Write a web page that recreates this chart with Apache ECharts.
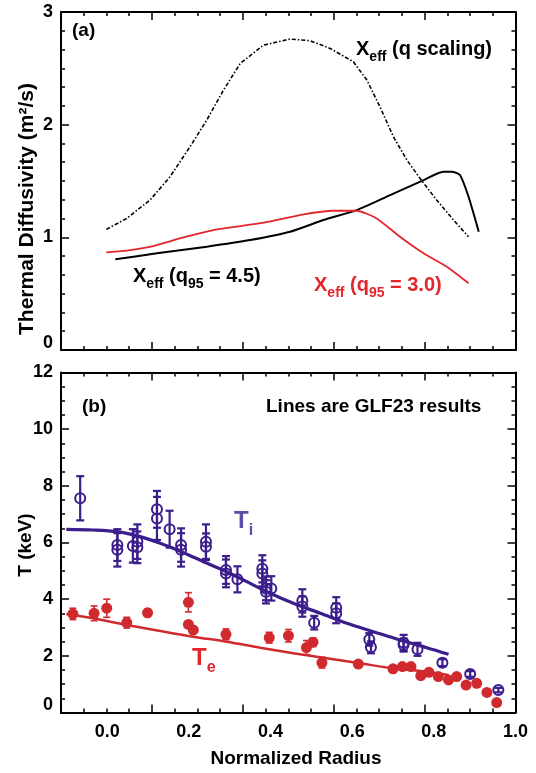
<!DOCTYPE html>
<html>
<head>
<meta charset="utf-8">
<script src="https://cdn.jsdelivr.net/npm/echarts@6/dist/echarts.min.js"></script>
<style>
html, body { margin: 0; padding: 0; background: #fff; }
#main { width: 536px; height: 773px; }
</style>
</head>
<body>
<div id="main"></div>
<script>
// (a) thermal diffusivity profiles
var qScaleX = [-0.002, 0.048, 0.105, 0.154, 0.203, 0.244, 0.285, 0.326, 0.383, 0.448, 0.497, 0.546, 0.603, 0.636, 0.668, 0.701, 0.734, 0.766, 0.807, 0.848, 0.885];
var qScaleY = [1.071, 1.168, 1.331, 1.538, 1.804, 2.041, 2.307, 2.544, 2.706, 2.760, 2.745, 2.677, 2.558, 2.396, 2.159, 1.893, 1.686, 1.524, 1.331, 1.154, 1.005];
var q45X = [0.020, 0.122, 0.244, 0.350, 0.448, 0.530, 0.611, 0.693, 0.775, 0.823, 0.844, 0.864, 0.885, 0.910];
var q45Y = [0.805, 0.858, 0.917, 0.976, 1.050, 1.154, 1.242, 1.375, 1.508, 1.582, 1.582, 1.553, 1.360, 1.050];
var q30X = [-0.002, 0.056, 0.113, 0.187, 0.269, 0.383, 0.481, 0.554, 0.611, 0.660, 0.717, 0.775, 0.832, 0.885];
var q30Y = [0.867, 0.887, 0.923, 1.000, 1.071, 1.130, 1.204, 1.236, 1.236, 1.168, 1.005, 0.858, 0.739, 0.592];

// (b) GLF23 results
var glfTiX = [-0.100, -0.034, 0.024, 0.081, 0.130, 0.187, 0.236, 0.293, 0.342, 0.391, 0.456, 0.522, 0.587, 0.652, 0.717, 0.783, 0.836];
var glfTiY = [6.466, 6.442, 6.382, 6.206, 5.972, 5.641, 5.323, 4.970, 4.617, 4.264, 3.855, 3.502, 3.149, 2.853, 2.559, 2.288, 2.054];
var glfTeX = [-0.100, -0.034, 0.048, 0.130, 0.211, 0.293, 0.375, 0.456, 0.538, 0.619, 0.701, 0.783, 0.836];
var glfTeY = [3.477, 3.325, 3.089, 2.877, 2.676, 2.499, 2.288, 2.090, 1.913, 1.737, 1.560, 1.440, 1.324];

// (b) measured Ti (open) and Te (filled) with error half-widths
var tiX = [-0.066, 0.025, 0.025, 0.063, 0.074, 0.074, 0.122, 0.122, 0.153, 0.181, 0.181, 0.242, 0.242, 0.291, 0.291, 0.319, 0.380, 0.380, 0.389, 0.389, 0.402, 0.478, 0.478, 0.507, 0.561, 0.561, 0.642, 0.646, 0.726, 0.726, 0.760, 0.821, 0.889, 0.958];
var tiY = [7.56, 5.91, 5.74, 5.88, 6.03, 5.83, 7.17, 6.85, 6.47, 5.91, 5.74, 6.03, 5.85, 5.03, 4.91, 4.70, 5.07, 4.91, 4.38, 4.26, 4.38, 3.94, 3.74, 3.17, 3.70, 3.50, 2.58, 2.30, 2.46, 2.38, 2.23, 1.76, 1.36, 0.79];
var tiErr = [0.78, 0.56, 0.59, 0.59, 0.61, 0.56, 0.65, 0.76, 0.65, 0.59, 0.59, 0.61, 0.47, 0.49, 0.49, 0.46, 0.48, 0.46, 0.42, 0.41, 0.43, 0.41, 0.36, 0.24, 0.37, 0.35, 0.22, 0.21, 0.28, 0.23, 0.23, 0.12, 0.10, 0.08];
var teX = [-0.084, -0.032, -0.001, 0.048, 0.099, 0.199, 0.199, 0.211, 0.291, 0.397, 0.444, 0.488, 0.504, 0.526, 0.615, 0.700, 0.723, 0.744, 0.768, 0.788, 0.811, 0.836, 0.856, 0.879, 0.905, 0.930, 0.954];
var teY = [3.48, 3.50, 3.68, 3.17, 3.52, 3.89, 3.11, 2.91, 2.76, 2.64, 2.71, 2.29, 2.48, 1.76, 1.71, 1.54, 1.62, 1.62, 1.30, 1.42, 1.27, 1.15, 1.27, 0.97, 1.03, 0.71, 0.35];
var teErr = [0.20, 0.26, 0.32, 0.19, 0.13, 0.34, 0.10, 0.10, 0.19, 0.19, 0.22, 0.25, 0.15, 0.19, 0, 0, 0, 0, 0, 0, 0, 0, 0, 0, 0, 0, 0];

var xLabels = [0, 0.2, 0.4, 0.6, 0.8, 1.0];

var FONT = "'Liberation Sans', Arial, sans-serif";
var PURPLE = '#3b1d8c';
var RED = '#d12a2e';

function pairs(xs, ys) {
    return xs.map(function (x, i) { return [x, ys[i]]; });
}
function bars(xs, ys, es) {
    var out = [];
    xs.forEach(function (x, i) {
        if (es[i] > 0) out.push([x, ys[i] - es[i], ys[i] + es[i]]);
    });
    return out;
}
function errRender(color, width, cap) {
    return function (params, api) {
        var lo = api.coord([api.value(0), api.value(1)]);
        var hi = api.coord([api.value(0), api.value(2)]);
        var st = { stroke: color, lineWidth: width };
        return {
            type: 'group',
            children: [
                { type: 'line', shape: { x1: lo[0], y1: lo[1], x2: hi[0], y2: hi[1] }, style: st },
                { type: 'line', shape: { x1: lo[0] - cap, y1: lo[1], x2: lo[0] + cap, y2: lo[1] }, style: st },
                { type: 'line', shape: { x1: hi[0] - cap, y1: hi[1], x2: hi[0] + cap, y2: hi[1] }, style: st }
            ]
        };
    };
}

// frame axes: ticks only, drawn 0..1 across the box
function tickX(gi, pos) {
    return {
        type: 'value', gridIndex: gi, position: pos, min: 0, max: 1, interval: 0.2,
        axisLine: { show: true, onZero: false, lineStyle: { color: '#000', width: 2 } },
        axisTick: { show: true, inside: true, length: 8, lineStyle: { color: '#000', width: 1.5 } },
        minorTick: { show: true, splitNumber: 4, length: 4, lineStyle: { color: '#000', width: 1.5 } },
        axisLabel: { show: false }, splitLine: { show: false }
    };
}
function dataX(gi, labels) {
    return {
        type: 'value', gridIndex: gi, position: 'bottom', min: -0.113, max: 1.0,
        axisLine: { show: false, onZero: false }, axisTick: { show: false }, splitLine: { show: false },
        axisLabel: {
            show: labels, customValues: xLabels, margin: 11,
            color: '#000', fontSize: 18, fontWeight: 'bold', fontFamily: FONT,
            formatter: function (v) { return v.toFixed(1); }
        }
    };
}
function valY(gi, pos, max, step, minor, labels) {
    return {
        type: 'value', gridIndex: gi, position: pos, min: 0, max: max, interval: step,
        axisLine: { show: true, onZero: false, lineStyle: { color: '#000', width: 2 } },
        axisTick: { show: true, inside: true, length: 8, lineStyle: { color: '#000', width: 1.5 } },
        minorTick: { show: true, splitNumber: minor, length: 4, lineStyle: { color: '#000', width: 1.5 } },
        splitLine: { show: false },
        axisLabel: {
            show: labels, margin: 8, color: '#000', fontSize: 18, fontWeight: 'bold', fontFamily: FONT,
            formatter: function (v) { return v === 0 ? '{z|0}' : String(v); },
            rich: { z: { fontSize: 18, fontWeight: 'bold', fontFamily: FONT, color: '#000', padding: [0, 0, 14, 0] } }
        }
    };
}

function sub(color, size, subSize) {
    return {
        m: { fontSize: size, fontWeight: 'bold', fontFamily: FONT, fill: color, verticalAlign: 'bottom', padding: [0, 0, 5, 0] },
        s: { fontSize: subSize || 14, fontWeight: 'bold', fontFamily: FONT, fill: color, verticalAlign: 'bottom' }
    };
}
function label(x, y, text, color, size, rich) {
    return {
        type: 'text', x: x, y: y, z: 50,
        style: {
            text: text, fill: color, fontSize: size || 19, fontWeight: 'bold', fontFamily: FONT,
            verticalAlign: 'middle', rich: rich
        }
    };
}

var chart = echarts.init(document.getElementById('main'), null, { renderer: 'canvas' });
chart.setOption({
    animation: false,
    backgroundColor: '#fff',
    grid: [
        { left: 61, right: 20.5, top: 12, height: 338 },
        { left: 61, right: 20.5, top: 372.5, height: 340 }
    ],
    xAxis: [dataX(0, false), tickX(0, 'bottom'), tickX(0, 'top'),
            dataX(1, true), tickX(1, 'bottom'), tickX(1, 'top')],
    yAxis: [valY(0, 'left', 3, 1, 6, true), valY(0, 'right', 3, 1, 6, false),
            valY(1, 'left', 12, 2, 4, true), valY(1, 'right', 12, 2, 4, false)],
    graphic: [
        label(72, 31, '(a)', '#000', 19),
        label(356, 52, '{m|X}{s|eff}{m| (q scaling)}', '#000', 20, sub('#000', 20)),
        label(133, 279, '{m|X}{s|eff}{m| (q}{s|95}{m| = 4.5)}', '#000', 20, sub('#000', 20)),
        label(314, 288, '{m|X}{s|eff}{m| (q}{s|95}{m| = 3.0)}', '#e3262b', 20, sub('#e3262b', 20)),
        label(82, 407, '(b)', '#000', 19),
        label(266, 407, 'Lines are GLF23 results', '#000', 19),
        label(234, 524, '{m|T}{s|i}', '#5b4ea6', 24, sub('#5b4ea6', 24, 16)),
        label(192, 661, '{m|T}{s|e}', '#e3262b', 24, sub('#e3262b', 24, 16)),
        {
            type: 'text', x: 296, y: 759,
            style: { text: 'Normalized Radius', fill: '#000', fontSize: 19, fontWeight: 'bold', fontFamily: FONT, align: 'center', verticalAlign: 'middle' }
        },
        {
            type: 'text', x: 27, y: 209, rotation: Math.PI / 2,
            style: { text: 'Thermal Diffusivity (m²/s)', fill: '#000', fontSize: 21, fontWeight: 'bold', fontFamily: FONT, align: 'center', verticalAlign: 'middle' }
        },
        {
            type: 'text', x: 26, y: 545, rotation: Math.PI / 2,
            style: { text: 'T (keV)', fill: '#000', fontSize: 19, fontWeight: 'bold', fontFamily: FONT, align: 'center', verticalAlign: 'middle' }
        }
    ],
    series: [
        {
            name: 'q scaling', type: 'line', xAxisIndex: 0, yAxisIndex: 0, symbol: 'none',
            data: pairs(qScaleX, qScaleY),
            lineStyle: { color: '#000', width: 1.6, type: [4, 2, 1.5, 2] }
        },
        {
            name: 'q95 = 4.5', type: 'line', xAxisIndex: 0, yAxisIndex: 0, symbol: 'none', smooth: 0.2,
            data: pairs(q45X, q45Y),
            lineStyle: { color: '#000', width: 2 }
        },
        {
            name: 'q95 = 3.0', type: 'line', xAxisIndex: 0, yAxisIndex: 0, symbol: 'none', smooth: 0.2,
            data: pairs(q30X, q30Y),
            lineStyle: { color: '#e3262b', width: 1.8 }
        },
        {
            name: 'Te err', type: 'custom', xAxisIndex: 3, yAxisIndex: 2,
            renderItem: errRender(RED, 1.6, 3.5), encode: { x: 0, y: [1, 2] },
            data: bars(teX, teY, teErr)
        },
        {
            name: 'Ti err', type: 'custom', xAxisIndex: 3, yAxisIndex: 2,
            renderItem: errRender(PURPLE, 2.2, 4), encode: { x: 0, y: [1, 2] },
            data: bars(tiX, tiY, tiErr)
        },
        {
            name: 'GLF Te', type: 'line', xAxisIndex: 3, yAxisIndex: 2, symbol: 'none', smooth: 0.3,
            data: pairs(glfTeX, glfTeY),
            lineStyle: { color: RED, width: 2.5 }
        },
        {
            name: 'GLF Ti', type: 'line', xAxisIndex: 3, yAxisIndex: 2, symbol: 'none', smooth: 0.3,
            data: pairs(glfTiX, glfTiY),
            lineStyle: { color: PURPLE, width: 3.2 }
        },
        {
            name: 'Te', type: 'scatter', xAxisIndex: 3, yAxisIndex: 2, symbol: 'circle', symbolSize: 11,
            data: pairs(teX, teY),
            itemStyle: { color: RED, opacity: 1 }
        },
        {
            name: 'Ti', type: 'scatter', xAxisIndex: 3, yAxisIndex: 2, symbol: 'circle', symbolSize: 10,
            data: pairs(tiX, tiY),
            itemStyle: { color: 'rgba(255,255,255,0)', borderColor: PURPLE, borderWidth: 2, opacity: 1 }
        }
    ]
});
</script>
</body>
</html>
